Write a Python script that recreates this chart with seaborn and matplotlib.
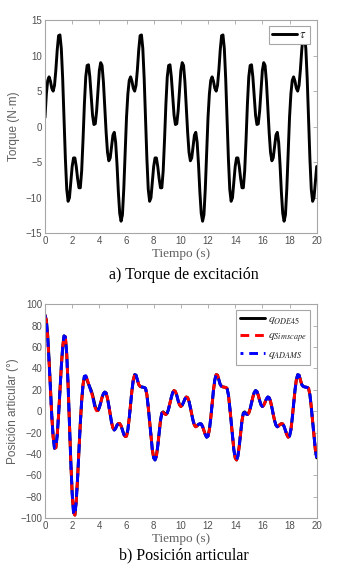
import numpy as np
import pandas as pd
import matplotlib
matplotlib.use("Agg")
import matplotlib.pyplot as plt
import seaborn as sns

# ---------------- data ----------------
dt = 0.1
# torque, one 6 s cycle (t = 0.0 ... 5.9), cycle repeats in the figure
tau_cycle = [1.3, 4.6, 6.5, 7.0, 6.4, 5.4, 5.0, 5.8, 8.0, 10.8,
             12.8, 12.9, 11.0, 6.8, 1.2, -4.5, -8.8, -10.5, -10.0, -7.8,
             -5.6, -4.4, -4.4, -5.6, -7.3, -8.6, -8.6, -6.2, -1.8, 3.2,
             7.0, 8.6, 8.7, 7.0, 4.2, 1.6, 0.3, 0.4, 2.2, 5.1,
             7.9, 9.0, 8.6, 6.3, 2.8, -0.8, -3.6, -4.8, -4.4, -2.8,
             -1.2, -0.8, -2.2, -5.3, -9.2, -12.2, -13.3, -12.4, -8.7, -3.7]

# joint position, first 6 s (t = 0.0 ... 5.9)
q_sim_start = [90.0, 84.4, 68.8, 45.8, 19.6, -5.3, -24.3, -34.5, -34.0, -22.2,
               -3.6, 19.2, 41.7, 59.8, 70.5, 69.5, 53.2, 24.6, -11.2, -47.2,
               -76.8, -94.5, -97.0, -84.0, -62.0, -36.0, -11.0, 10.0, 25.0, 32.7,
               33.3, 30.0, 26.0, 22.0, 18.5, 14.0, 8.0, 3.0, 0.5, 0.8,
               3.5, 8.0, 13.0, 16.5, 18.0, 17.0, 12.0, 5.0, -3.0, -10.5,
               -15.5, -17.5, -16.0, -13.0, -11.5, -11.5, -13.5, -17.5, -21.5, -23.5]
q_ode_start = [90.0, 85.5, 71.0, 48.5, 22.0, -3.5, -23.5, -34.5, -34.0, -22.2,
               -3.6, 19.2, 41.7, 59.8, 70.5, 69.5, 53.2, 24.6, -11.2, -47.2,
               -76.8, -94.5, -97.0, -84.0, -62.0, -36.0, -11.0, 10.0, 25.0, 32.7,
               32.0, 29.0, 25.5, 22.5, 19.5, 15.5, 10.0, 4.5, 1.5, 0.8,
               3.5, 8.0, 13.0, 16.5, 18.0, 17.0, 12.0, 5.0, -3.0, -10.5,
               -15.5, -17.5, -16.0, -13.0, -11.5, -11.5, -13.5, -17.5, -21.5, -23.5]
# joint position, steady 6 s cycle (t = 6.0 ... 11.9)
q_sim_cycle = [-23.2, -17.3, -6.5, 6.6, 19.5, 29.4, 34.2, 33.8, 29.5, 25.0,
               23.3, 22.8, 22.6, 22.3, 21.5, 15.5, 4.0, -9.4, -23.7, -35.8,
               -43.5, -45.5, -41.9, -32.5, -20.1, -8.7, -1.9, -1.0, -2.5, -3.0,
               -1.6, 2.3, 7.7, 13.2, 17.5, 19.4, 18.5, 14.9, 10.0, 6.1,
               4.5, 5.7, 8.5, 11.6, 13.4, 12.8, 9.3, 3.7, -2.8, -8.7,
               -13.0, -14.5, -13.6, -12.2, -11.6, -11.8, -14.2, -18.0, -21.8, -24.2]
q_ode_cycle = [-23.2, -17.3, -6.5, 6.6, 19.5, 29.4, 34.2, 33.8, 29.5, 25.0,
               23.3, 22.8, 22.6, 22.3, 21.5, 15.5, 4.0, -9.4, -23.7, -35.8,
               -43.5, -45.5, -41.9, -32.5, -20.1, -8.7, -1.5, -0.5, -2.0, -3.0,
               -1.6, 2.3, 7.7, 13.2, 17.5, 19.4, 18.5, 14.9, 10.0, 6.1,
               4.5, 5.7, 8.5, 11.6, 13.4, 12.8, 9.3, 3.7, -2.8, -8.7,
               -13.0, -14.5, -13.6, -12.2, -11.6, -11.8, -14.2, -18.0, -21.8, -24.2]

x_ticks = [0, 2, 4, 6, 8, 10, 12, 14, 16, 18, 20]
tau_ticks = [-15, -10, -5, 0, 5, 10, 15]
q_ticks = [-100, -80, -60, -40, -20, 0, 20, 40, 60, 80, 100]

# ---------------- build series ----------------
tau = tau_cycle * 3 + tau_cycle[:21]
q_sim = q_sim_start + q_sim_cycle * 2 + q_sim_cycle[:21]
q_ode = q_ode_start + q_ode_cycle * 2 + q_ode_cycle[:21]
t = np.round(np.arange(len(tau)) * dt, 2)
df_tau = pd.DataFrame({"t": t, "tau": tau})
df_q = pd.DataFrame({"t": t, "ode": q_ode, "sim": q_sim, "adams": q_sim})

# ---------------- style ----------------
sns.set_style("white")
plt.rcParams["font.family"] = ["Liberation Sans", "DejaVu Sans"]
plt.rcParams["mathtext.fontset"] = "stix"

axis_gray = "#a6a6a6"
tick_gray = "#505050"
label_gray = "#606060"

fig = plt.figure(figsize=(3.5, 5.67), dpi=100)
ax1 = fig.add_axes([45 / 350, 1 - 233.3 / 567, 271.7 / 350, 213.3 / 567])
ax2 = fig.add_axes([45 / 350, 1 - 518.3 / 567, 271.7 / 350, 214 / 567])

sns.lineplot(data=df_tau, x="t", y="tau", ax=ax1, color="black", lw=2.1,
             label=r"$\tau$")
sns.lineplot(data=df_q, x="t", y="ode", ax=ax2, color="black", lw=2.1,
             label=r"$q_{ODE45}$")
sns.lineplot(data=df_q, x="t", y="sim", ax=ax2, color="#ff0000", lw=2.1,
             linestyle=(0, (3, 2.0)), label=r"$q_{Simscape}$")
sns.lineplot(data=df_q, x="t", y="adams", ax=ax2, color="#0000ff", lw=2.1,
             linestyle=(2.0, (3, 2.0)), label=r"$q_{ADAMS}$")

for ax, yt, ylim in [(ax1, tau_ticks, (-15, 15)), (ax2, q_ticks, (-100, 100))]:
    ax.set_xlim(0, 20)
    ax.set_ylim(*ylim)
    ax.set_xticks(x_ticks)
    ax.set_yticks(yt)
    ax.tick_params(direction="in", length=3, width=0.6, colors=axis_gray,
                   labelcolor=tick_gray, labelsize=7, top=True, right=True,
                   pad=2)
    for s in ax.spines.values():
        s.set_color(axis_gray)
        s.set_linewidth(0.8)
    ax.set_xlabel("Tiempo (s)", family="Liberation Serif", fontsize=9.5,
                  color=label_gray, labelpad=1.5)

ax1.set_ylabel("Torque (N·m)", fontsize=8.5, color=label_gray, labelpad=4)
ax2.set_ylabel("Posición articular (°)", fontsize=8.5, color=label_gray,
               labelpad=1)

leg1 = ax1.legend(loc="upper right", bbox_to_anchor=(0.975, 0.972),
                  borderaxespad=0, fancybox=False, framealpha=1,
                  edgecolor=axis_gray, fontsize=9, handlelength=2.0,
                  handletextpad=0.2, borderpad=0.25)
leg2 = ax2.legend(loc="upper right", bbox_to_anchor=(0.975, 0.973),
                  borderaxespad=0, fancybox=False, framealpha=1,
                  edgecolor=axis_gray, fontsize=8.5, handlelength=2.1,
                  handletextpad=0.25, borderpad=0.3, labelspacing=0.3)
for leg in (leg1, leg2):
    leg.get_frame().set_linewidth(0.8)

fig.text(184 / 350, 1 - 275 / 567, "a) Torque de excitación",
         family="Liberation Serif", fontsize=11.5, color="black",
         ha="center", va="center")
fig.text(184 / 350, 1 - 555 / 567, "b) Posición articular",
         family="Liberation Serif", fontsize=11.5, color="black",
         ha="center", va="center")

fig.savefig("out.png", dpi=100, facecolor="white")
